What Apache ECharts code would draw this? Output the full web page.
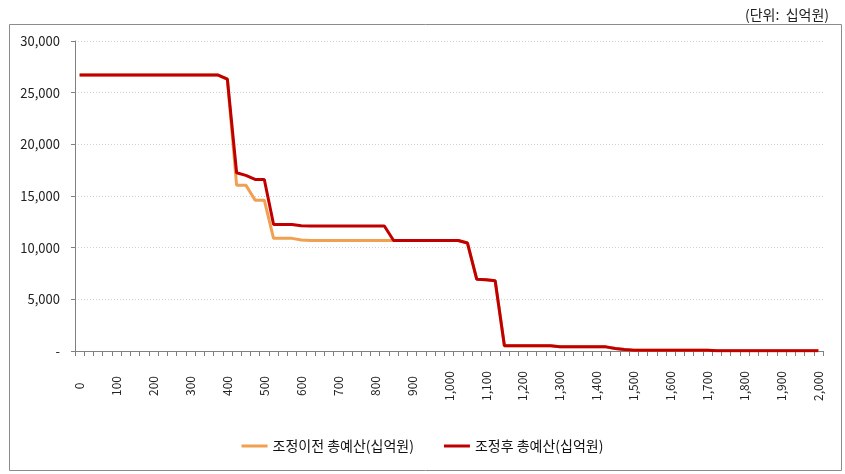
<!DOCTYPE html>
<html>
<head>
<meta charset="utf-8">
<script src="https://cdn.jsdelivr.net/npm/echarts@6/dist/echarts.min.js"></script>
<style>html,body{margin:0;padding:0;background:#fff}#c{width:845px;height:474px}</style>
</head>
<body>
<div id="c"></div>
<script>
// categories: 0, 25, ..., 2000
const categories = [];
for (let i = 0; i <= 80; i++) categories.push(String(i * 25));

const seriesNames = ['조정이전 총예산(십억원)', '조정후 총예산(십억원)'];

const beforeValues = [
  26700,26700,26700,26700,26700,26700,26700,26700,26700,26700,
  26700,26700,26700,26700,26700,26700,26300,16050,16050,14600,
  14600,10900,10900,10900,10750,10700,10700,10700,10700,10700,
  10700,10700,10700,10700,10700,10700,10700,10700,10700,10700,
  10700,10700,10450,6950,6900,6800,500,500,500,500,
  500,500,420,400,400,400,400,400,250,150,
  80,80,80,80,80,80,80,80,80,30,
  20,20,20,20,20,20,20,20,20,20,20
];

const afterValues = [
  26700,26700,26700,26700,26700,26700,26700,26700,26700,26700,
  26700,26700,26700,26700,26700,26700,26300,17250,17000,16600,
  16600,12250,12250,12250,12130,12100,12100,12100,12100,12100,
  12100,12100,12100,12100,10700,10700,10700,10700,10700,10700,
  10700,10700,10450,6950,6900,6800,500,500,500,500,
  500,500,420,400,400,400,400,400,250,150,
  80,80,80,80,80,80,80,80,80,30,
  20,20,20,20,20,20,20,20,20,20,20
];

const unitText = '(단위:  십억원)';
const FONT = "'Noto Sans CJK KR', 'Noto Sans', sans-serif";

const chart = echarts.init(document.getElementById('c'), null, {renderer: 'canvas'});
chart.setOption({
  animation: false,
  backgroundColor: '#fff',
  textStyle: {fontFamily: FONT},
  title: {
    text: unitText, right: 11, top: 3,
    textStyle: {fontSize: 14, fontWeight: 'normal', color: '#222', fontFamily: FONT}
  },
  graphic: [{
    type: 'rect', left: 7, top: 22, shape: {width: 832, height: 446},
    style: {fill: 'none', stroke: '#8c8c8c', lineWidth: 1}, silent: true, z: -1
  }],
  legend: {
    bottom: 16, left: 'center',
    icon: 'rect',
    itemWidth: 26, itemHeight: 3, itemGap: 30,
    textStyle: {fontSize: 14, color: '#111', fontFamily: FONT},
    data: seriesNames
  },
  grid: {left: 75, right: 22, top: 41, bottom: 123},
  xAxis: {
    type: 'category', boundaryGap: true, data: categories,
    axisLine: {show: true, lineStyle: {color: '#808080', width: 1}},
    axisTick: {show: true, interval: 0, length: 5, lineStyle: {color: '#808080', width: 1}},
    axisLabel: {
      interval: 3, rotate: 90, margin: 35, align: 'center', verticalAlign: 'middle',
      fontSize: 12, color: '#222', fontFamily: FONT,
      formatter: v => Number(v).toLocaleString('en-US')
    }
  },
  yAxis: {
    type: 'value', min: 0, max: 30000, interval: 5000,
    axisLine: {show: true, lineStyle: {color: '#808080', width: 1}},
    axisTick: {show: true, length: 4, lineStyle: {color: '#808080'}},
    splitLine: {lineStyle: {color: '#d0d0d0', type: [1, 2]}},
    axisLabel: {
      margin: 15, fontSize: 13, color: '#222', fontFamily: FONT,
      formatter: v => v === 0 ? '-' : v.toLocaleString('en-US')
    }
  },
  series: [
    {name: seriesNames[0], type: 'line', data: beforeValues, symbol: 'none',
     lineStyle: {color: '#F0A050', width: 3}, itemStyle: {color: '#F0A050'}, z: 2},
    {name: seriesNames[1], type: 'line', data: afterValues, symbol: 'none',
     lineStyle: {color: '#C00000', width: 3}, itemStyle: {color: '#C00000'}, z: 3}
  ]
});
</script>
</body>
</html>
